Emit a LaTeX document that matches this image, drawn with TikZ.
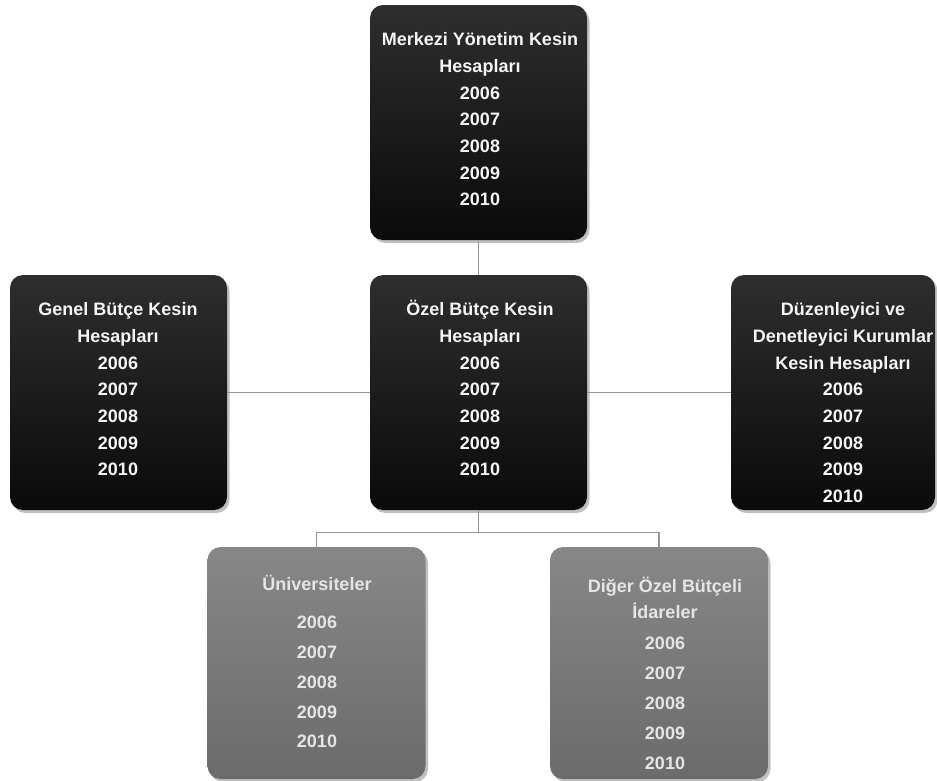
\documentclass[tikz,border=0pt]{standalone}
\usepackage{fontspec}
\setmainfont{Liberation Sans}
\usetikzlibrary{shadows}
\newcommand{\firststrut}{\rule{0pt}{18pt}}
\begin{document}
\begin{tikzpicture}[x=1pt,y=-1pt,
  boxbase/.style={rounded corners=13pt, draw=none,
    drop shadow={shadow xshift=2.5pt, shadow yshift=-3pt, fill=black!45, opacity=0.55}},
  darkbox/.style={boxbase, top color=black!82, bottom color=black!96,
    minimum width=217pt, minimum height=235pt, inner sep=0pt},
  greybox/.style={boxbase, top color=black!47, bottom color=black!58,
    minimum width=218pt, minimum height=232pt, inner sep=0pt},
  darktext/.style={anchor=north, align=center, inner sep=0pt, text=black!4,
    font=\fontsize{18}{26.7}\selectfont\bfseries},
  greytext/.style={anchor=north, align=center, inner sep=0pt, text=black!10,
    font=\fontsize{18}{29.8}\selectfont\bfseries},
  link/.style={draw=black!42, line width=1.4pt}
]
\useasboundingbox (0,0) rectangle (937,780);
% boxes
\node[darkbox] (top) at (478.5,122.5) {};
\node[darkbox] (gen) at (118.5,392.5) {};
\node[darkbox] (ozel) at (478.5,392.5) {};
\node[darkbox, minimum width=204pt] (duz) at (833,392.5) {};
\node[greybox] (uni) at (316.5,663) {};
\node[greybox] (dig) at (659,663) {};
% connectors
\draw[link] (top.south) -- (ozel.north);
\draw[link] (gen.east) -- (ozel.west);
\draw[link] (ozel.east) -- (duz.west);
\draw[link] (ozel.south) -- ++(0,22) coordinate (split) -| (uni.north);
\draw[link] (split) -| (dig.north);
% texts
\node[darktext] (toptxt) at (480,27.5) {\firststrut Merkezi Yönetim Kesin\\Hesapları\\2006\\2007\\2008\\2009\\2010};
\node[darktext] (gentxt) at (118,297.5) {\firststrut Genel Bütçe Kesin\\Hesapları\\2006\\2007\\2008\\2009\\2010};
\node[darktext] (ozeltxt) at (480,297.5) {\firststrut Özel Bütçe Kesin\\Hesapları\\2006\\2007\\2008\\2009\\2010};
\node[darktext] (duztxt) at (843,297.5) {\firststrut Düzenleyici ve\\Denetleyici Kurumlar\\Kesin Hesapları\\2006\\2007\\2008\\2009\\2010};
\node[greytext] (unitxt) at (317,572.5) {\firststrut Üniversiteler\\[8.2pt]2006\\2007\\2008\\2009\\2010};
\node[greytext] (digtxt) at (665,574.5) {\firststrut Diğer Özel Bütçeli\\[-3.7pt]İdareler\\[1.3pt]2006\\2007\\2008\\2009\\2010};
\end{tikzpicture}
\end{document}
